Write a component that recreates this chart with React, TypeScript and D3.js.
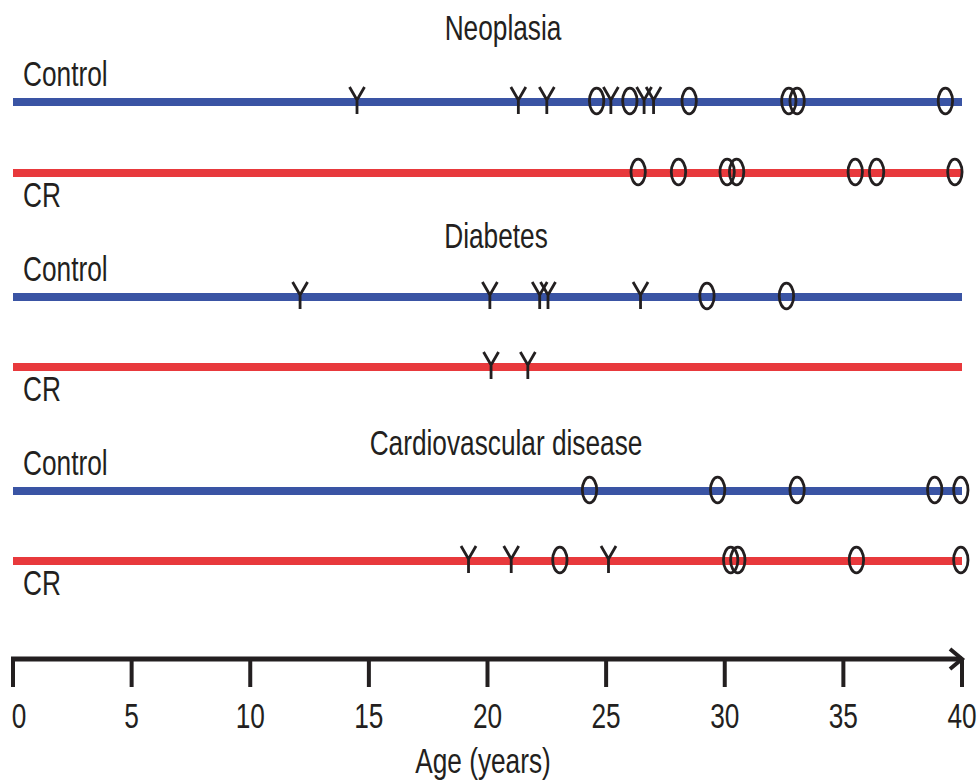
import React from "react";
import * as d3 from "d3";

// ---- data ----
const diseases = ["Neoplasia", "Diabetes", "Cardiovascular disease"];
const groups = ["Control", "CR"];

// [age, marker]  marker: "Y" or "O"
const neoplasiaControl: [number, string][] = [
  [14.5, "Y"], [21.3, "Y"], [22.5, "Y"], [24.6, "O"], [25.2, "Y"], [26.0, "O"],
  [26.6, "Y"], [27.0, "Y"], [28.5, "O"], [32.7, "O"], [33.05, "O"], [39.3, "O"],
];
const neoplasiaCR: [number, string][] = [
  [26.35, "O"], [28.05, "O"], [30.1, "O"], [30.5, "O"], [35.5, "O"], [36.4, "O"], [39.7, "O"],
];
const diabetesControl: [number, string][] = [
  [12.1, "Y"], [20.1, "Y"], [22.2, "Y"], [22.55, "Y"], [26.45, "Y"], [29.25, "O"], [32.6, "O"],
];
const diabetesCR: [number, string][] = [[20.15, "Y"], [21.7, "Y"]];
const cvdControl: [number, string][] = [
  [24.3, "O"], [29.7, "O"], [33.05, "O"], [38.85, "O"], [39.95, "O"],
];
const cvdCR: [number, string][] = [
  [19.2, "Y"], [21.0, "Y"], [23.05, "O"], [25.1, "Y"], [30.25, "O"], [30.55, "O"], [35.55, "O"], [39.95, "O"],
];
const seriesByDisease = [
  [neoplasiaControl, neoplasiaCR],
  [diabetesControl, diabetesCR],
  [cvdControl, cvdCR],
];
const tickValues = [0, 5, 10, 15, 20, 25, 30, 35, 40];
const axisTitle = "Age (years)";

// ---- layout ----
const W = 980;
const H = 782;
const panelLayout = [
  { titleX: 503, titleY: 40, controlY: 102, crY: 173 },
  { titleX: 496, titleY: 248, controlY: 297, crY: 367 },
  { titleX: 506, titleY: 455, controlY: 491, crY: 561 },
];
const BLUE = "#3a54a4";
const RED = "#e8393c";
const INK = "#231f20";
const FONT = "'Liberation Sans', Arial, Helvetica, sans-serif";
const FS = 35;
const SX = 0.75;

const x = d3.scaleLinear().domain([0, 40]).range([13, 962]);

function CText({ x: tx, y, anchor = "start", children, sx = SX }: any) {
  return (
    <text
      transform={`translate(${tx},${y}) scale(${sx},1)`}
      textAnchor={anchor}
      fontFamily={FONT}
      fontSize={FS}
      fill={INK}
    >
      {children}
    </text>
  );
}

function Marker({ cx, cy, type }: { cx: number; cy: number; type: string }) {
  if (type === "O") {
    return <ellipse cx={cx} cy={cy - 1} rx={7.2} ry={12.8} fill="none" stroke={INK} strokeWidth={2.8} />;
  }
  const top = cy - 15;
  const fork = cy - 2;
  const bottom = cy + 12;
  const p = d3.path();
  p.moveTo(cx - 7.5, top);
  p.lineTo(cx, fork);
  p.lineTo(cx + 7.5, top);
  p.moveTo(cx, fork);
  p.lineTo(cx, bottom);
  return <path d={p.toString()} fill="none" stroke={INK} strokeWidth={2.8} />;
}

export default function App() {
  const [x0, x1] = x.range();
  const axisY = 659;
  return (
    <div style={{ position: "fixed", left: 0, top: 0 }}>
      <svg width={W} height={H} style={{ display: "block", background: "#fff" }}>
        {diseases.map((name, di) => {
          const L = panelLayout[di];
          const rows = [L.controlY, L.crY];
          return (
            <g key={name}>
              <CText x={L.titleX} y={L.titleY} anchor="middle">{name}</CText>
              {groups.map((g, gi) => {
                const y = rows[gi];
                return (
                  <g key={g}>
                    <line x1={x0} x2={x1} y1={y} y2={y} stroke={gi === 0 ? BLUE : RED} strokeWidth={8} />
                    <CText x={23} y={gi === 0 ? y - 16 : y + 34}>{g}</CText>
                    {seriesByDisease[di][gi].map(([age, type], k) => (
                      <Marker key={k} cx={x(age)} cy={y} type={type} />
                    ))}
                  </g>
                );
              })}
            </g>
          );
        })}
        {/* axis */}
        <line x1={x0 - 2} x2={x1} y1={axisY} y2={axisY} stroke={INK} strokeWidth={5} />
        <polyline
          points={`${x1 - 12},${axisY - 10} ${x1},${axisY} ${x1 - 12},${axisY + 10}`}
          fill="none"
          stroke={INK}
          strokeWidth={4}
        />
        {tickValues.map((t, i) => (
          <g key={t}>
            <line x1={x(t)} x2={x(t)} y1={axisY} y2={axisY + 28} stroke={INK} strokeWidth={4} />
            <CText x={x(t) + (i === 0 ? 6 : 0)} y={728} anchor="middle">{t}</CText>
          </g>
        ))}
        <CText x={483} y={773} anchor="middle">{axisTitle}</CText>
      </svg>
    </div>
  );
}
